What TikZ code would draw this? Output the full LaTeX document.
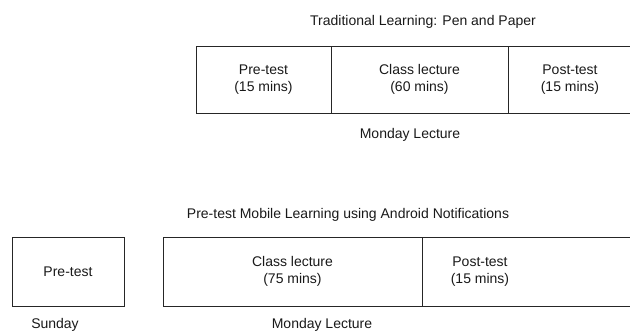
\documentclass[tikz,border=0pt]{standalone}
\usepackage{fontspec}
\setmainfont{Liberation Sans}
\usetikzlibrary{positioning}

\begin{document}
\begin{tikzpicture}[x=1pt, y=1pt,
	every node/.style={font=\fontsize{14}{17}\selectfont, text=black!90},
	box/.style={draw=black!85, line width=0.9pt, rectangle, align=center, inner sep=0pt, outer sep=0pt}]
	\useasboundingbox (0,0) rectangle (630,333);
	\clip (0,0) rectangle (630,333);

	% traditional learning
	\node					(title1)	at (423,311)	{Traditional Learning: Pen and Paper};
	\node[box, minimum width=135, minimum height=67]			(pre1)	at (263.5,253.5)	{Pre-test\\(15 mins)};
	\node[box, minimum width=177, minimum height=67, right=0pt of pre1]	(class1)	{Class lecture\\(60 mins)};
	\node[box, minimum width=124, minimum height=67, right=0pt of class1]	(post1)	{Post-test\\(15 mins)};
	\node					(day1)	at (410,198)	{Monday Lecture};

	% mobile learning
	\node					(title2)	at (348,118)	{Pre-test Mobile Learning using Android Notifications};
	\node[box, minimum width=112, minimum height=69]			(pre2)	at (68,61.5)	{Pre-test};
	\node[box, minimum width=259, minimum height=69]			(class2)	at (292.5,61.5)	{Class lecture\\(75 mins)};
	\node[box, minimum width=220, minimum height=69, right=0pt of class2,
		label={[anchor=center, xshift=58, align=center]west:Post-test\\(15 mins)}]	(post2)	{};
	\node					(day2)	at (55,8)	{Sunday};
	\node					(day3)	at (322,8)	{Monday Lecture};
\end{tikzpicture}
\end{document}
